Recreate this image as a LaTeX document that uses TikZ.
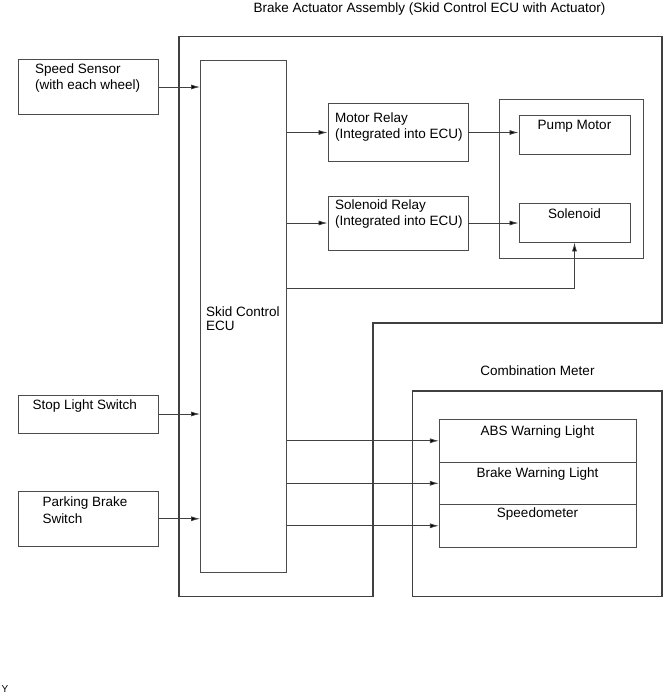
\documentclass[tikz,border=0pt]{standalone}
\usepackage{fontspec}
\setmainfont{Liberation Sans}
\usetikzlibrary{arrows.meta,fit}
\begin{document}
\begin{tikzpicture}[x=1pt,y=-1pt,
  line cap=rect,
  box/.style={draw=black!70, line width=0.9pt, inner sep=0pt},
  frame/.style={draw=black!75, line width=1.2pt},
  lbl/.style={inner sep=0pt, align=left, anchor=north west, font=\fontsize{13.5}{16.5}\selectfont},
  clbl/.style={inner sep=0pt, anchor=base, font=\fontsize{13.5}{16.5}\selectfont},
  arr/.style={draw=black!75, line width=0.8pt, -{Latex[length=9pt,width=5pt,fill=black]}}]
\useasboundingbox (0,0) rectangle (664,694);

% title
\node[clbl] (title) at (429.5,12.7) {Brake Actuator Assembly (Skid Control ECU with Actuator)};

% outer assembly outline
\draw[frame] (179,36.5) -- (662,36.5) -- (662,323) -- (373,323) -- (373,596.7) -- (179,596.7) -- cycle;

% left inputs
\node[box, fit={(18.5,59.5) (158.5,114.5)}] (speed) {};
\node[lbl] (speedt) at (35,63.5) {Speed Sensor\\(with each wheel)};
\node[box, fit={(18.5,395) (158.5,433)}] (stop) {};
\node[lbl] (stopt) at (32.3,399.5) {Stop Light Switch};
\node[box, fit={(18.5,491.5) (158.5,546)}] (park) {};
\node[lbl] (parkt) at (42.3,497) {Parking Brake\\Switch};

% ECU
\node[box, fit={(200.5,60.5) (286.5,572.5)}] (ecu) {};
\node[lbl, font=\fontsize{13.5}{13.5}\selectfont] (ecut) at (206,307) {Skid Control\\ECU};

% relays
\node[box, fit={(328,103.5) (468,161.5)}] (mrel) {};
\node[lbl] (mrelt) at (335,112.5) {Motor Relay\\(Integrated into ECU)};
\node[box, fit={(328,196) (468,250)}] (srel) {};
\node[lbl] (srelt) at (335,199.5) {Solenoid Relay\\(Integrated into ECU)};

% actuator group
\node[box, fit={(499,99) (643,258)}] (grp) {};
\node[box, fit={(519,115.5) (630,154)}] (pump) {};
\node[clbl] (pumpt) at (574.5,129.5) {Pump Motor};
\node[box, fit={(519,203) (630,242)}] (sol) {};
\node[clbl] (solt) at (574.5,218) {Solenoid};

% combination meter
\node[clbl] (metert) at (537.5,375) {Combination Meter};
\node[box, fit={(412.7,391) (662,596.7)}, line width=1.2pt, draw=black!75] (meter) {};
\node[box, fit={(439.3,419.3) (636,462.3)}] (abs) {};
\node[clbl] (abst) at (537.5,435) {ABS Warning Light};
\node[box, fit={(439.3,462.3) (636,504.3)}] (brk) {};
\node[clbl] (brkt) at (537.5,477.7) {Brake Warning Light};
\node[box, fit={(439.3,504.3) (636,547.3)}] (spd) {};
\node[clbl] (spdt) at (537.5,517.5) {Speedometer};

% connectors
\draw[arr] (speed.east) -- (speed.east -| ecu.west);
\draw[arr] (stop.east) -- (stop.east -| ecu.west);
\draw[arr] (park.east) -- (park.east -| ecu.west);
\draw[arr] (mrel.west -| ecu.east) -- (mrel.west);
\draw[arr] (mrel.east) -- (mrel.east -| pump.west);
\draw[arr] (srel.west -| ecu.east) -- (srel.west);
\draw[arr] (srel.east) -- (srel.east -| sol.west);
\coordinate (bend) at (574.5,288.5);
\draw[arr] (bend -| ecu.east) -- (bend) -- (sol.south);
\draw[arr] (abs.west -| ecu.east) -- (abs.west);
\draw[arr] (brk.west -| ecu.east) -- (brk.west);
\draw[arr] (spd.west -| ecu.east) -- (spd.west);

% corner mark
\node[inner sep=0pt, anchor=base west, font=\fontsize{10}{10}\selectfont] (ymark) at (1.5,692.5) {Y};
\end{tikzpicture}
\end{document}
